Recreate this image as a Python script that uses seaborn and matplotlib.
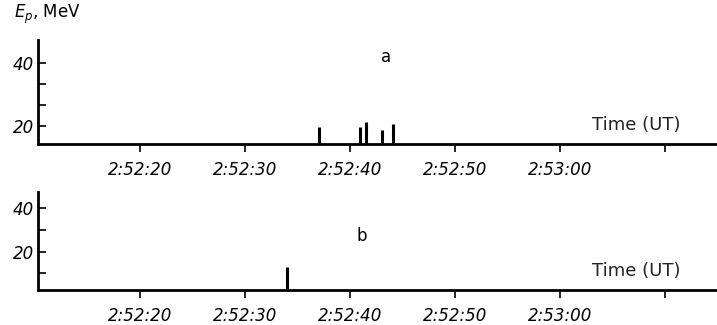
import matplotlib
matplotlib.use("Agg")
import matplotlib.pyplot as plt
import seaborn as sns

# --- Data (time in seconds after 2:52:00 UT, energy in MeV) ---
a_times = [37.05, 40.95, 41.5, 43.0, 44.1]
a_energy = [19.6, 19.6, 21.2, 18.8, 20.6]
b_times = [34.0]
b_energy = [13.1]

tick_secs = [20, 30, 40, 50, 60, 70]
tick_labels = ["2:52:20", "2:52:30", "2:52:40", "2:52:50", "2:53:00", ""]

a_yticks = [20, 26.67, 33.33, 40]
b_yticks = [10, 20, 30, 40]
y_labels_a = ["20", "", "", "40"]
y_labels_b = ["", "20", "", "40"]

sns.set_style("ticks")
plt.rcParams['font.family'] = ['DejaVu Sans']
plt.rcParams['text.color'] = 'black'
plt.rcParams['xtick.color'] = 'black'
plt.rcParams['ytick.color'] = 'black'

fig = plt.figure(figsize=(7.17, 3.25), dpi=100)
ax_a = fig.add_axes([0.053, 0.557, 0.945, 0.32])
ax_b = fig.add_axes([0.053, 0.108, 0.945, 0.302])

def style_axis(ax, times, energy, ybase, ytop, yticks, ylabels):
    ax.vlines(times, ybase, energy, color="black", linewidth=2.2)
    ax.set_xlim(10.3, 74.8)
    ax.set_ylim(ybase, ytop)
    sns.despine(ax=ax)
    for s in ("left", "bottom"):
        ax.spines[s].set_linewidth(2)
        ax.spines[s].set_color("black")
    ax.set_xticks(tick_secs)
    ax.set_xticklabels(tick_labels, fontsize=12, style="italic")
    ax.set_yticks(yticks)
    ax.set_yticklabels(ylabels, fontsize=12, style="italic")
    ax.tick_params(axis="x", direction="out", length=6, width=1.2, pad=6,
                   labelcolor="black")
    ax.tick_params(axis="y", direction="in", length=6, width=1.2, pad=3,
                   labelcolor="black")
    ax.text(0.948, 0.1, "Time (UT)", transform=ax.transAxes, ha="right",
            va="bottom", fontsize=13, color="#222222")

style_axis(ax_a, a_times, a_energy, 14.4, 47.2, a_yticks, y_labels_a)
style_axis(ax_b, b_times, b_energy, 2.4, 47.6, b_yticks, y_labels_b)

ax_a.text(0.514, 0.84, "a", transform=ax_a.transAxes, ha="center",
          va="center", fontsize=12)
ax_b.text(0.478, 0.55, "b", transform=ax_b.transAxes, ha="center",
          va="center", fontsize=12)
fig.text(0.02, 0.955, "$E_{p}$, MeV", ha="left", va="center", fontsize=12)

fig.savefig("out.png", dpi=100)
